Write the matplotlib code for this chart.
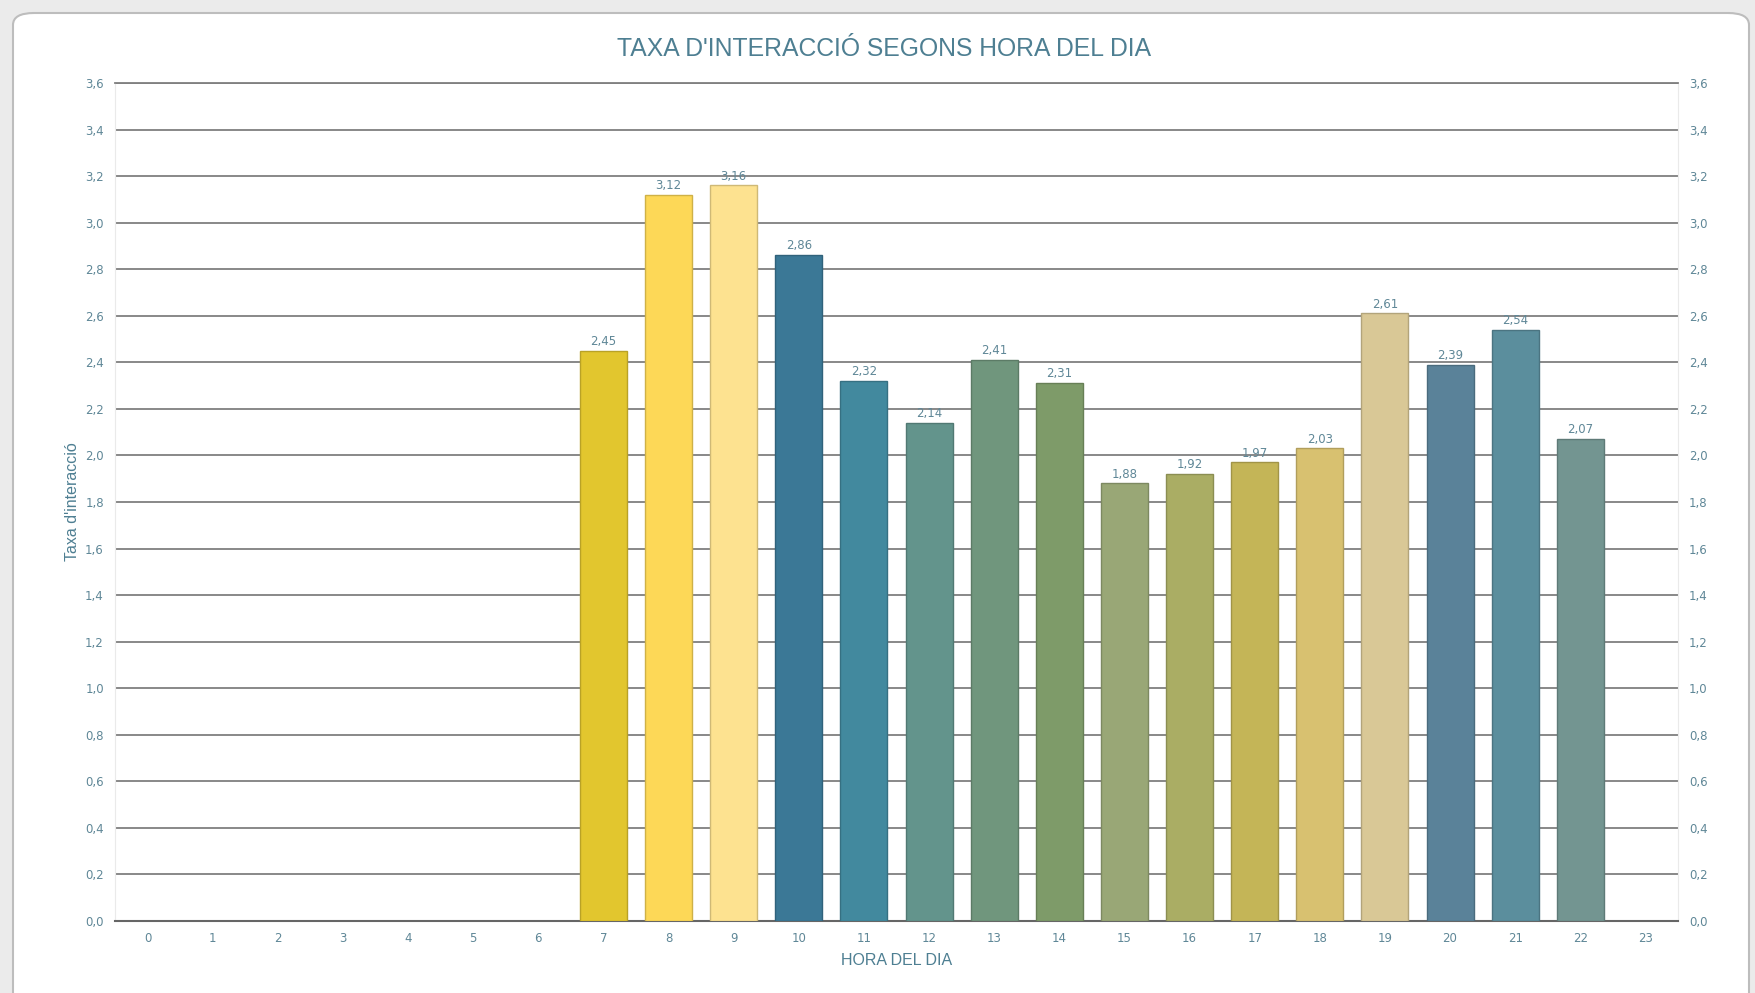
import matplotlib
matplotlib.use("Agg")
import matplotlib.pyplot as plt
from matplotlib.patches import FancyBboxPatch
import matplotlib.colors as mcolors
import numpy as np

# ---- data ----
hours = [str(h) for h in range(24)]
values = [0, 0, 0, 0, 0, 0, 0,
          2.45, 3.12, 3.16, 2.86, 2.32, 2.14, 2.41, 2.31,
          1.88, 1.92, 1.97, 2.03, 2.61, 2.39, 2.54, 2.07, 0]
bar_colors = ["#FFFFFF"] * 7 + [
    "#E2C62E", "#FDD857", "#FDE290", "#3B7896", "#42899E", "#63948C",
    "#70967D", "#7E9B69", "#99A776", "#AAAD64", "#C4B557", "#D8C170",
    "#D9C896", "#5A8299", "#5B8E9D", "#739591"] + ["#FFFFFF"]
y_ticks = [round(0.2 * i, 1) for i in range(19)]
y_tick_labels = [f"{t:.1f}".replace(".", ",") for t in y_ticks]

title = "TAXA D'INTERACCIÓ SEGONS HORA DEL DIA"
xlabel = "HORA DEL DIA"
ylabel = "Taxa d'interacció"

text_color = "#4E7F92"
tick_color = "#5F8797"
small_font = ['DejaVu Sans']

plt.rcParams['font.family'] = ['Liberation Sans', 'DejaVu Sans']

W, H = 1756, 993
fig = plt.figure(figsize=(W / 100, H / 100), dpi=100)
fig.patch.set_facecolor("#EBEBEB")

# card
card = FancyBboxPatch((13 / W, -0.05), (1749 - 13) / W, (993 - 13) / H + 0.05,
                      boxstyle="round,pad=0,rounding_size=0.012",
                      transform=fig.transFigure, facecolor="white",
                      edgecolor="#BDBDBD", linewidth=1.5, zorder=-10)
fig.patches.append(card)

left, right, top, bottom = 115 / W, 1678 / W, 83 / H, 921 / H
ax = fig.add_axes([left, 1 - bottom, right - left, bottom - top])
ax.set_facecolor("white")

x = np.arange(len(hours))
edge_cols = []
for c in bar_colors:
    r, g, b = mcolors.to_rgb(c)
    edge_cols.append((r * 0.82, g * 0.82, b * 0.82))
mask = [v > 0 for v in values]
ax.bar(x[mask], np.array(values)[mask], width=0.72,
       color=[c for c, m in zip(bar_colors, mask) if m],
       edgecolor=[c for c, m in zip(edge_cols, mask) if m],
       linewidth=1.0, zorder=3)

for xi, v in zip(x, values):
    if v > 0:
        ax.text(xi, v + 0.012, f"{v:.2f}".replace(".", ","), ha="center",
                va="bottom", fontsize=8.5, color=tick_color, zorder=4,
                family=small_font)

ax.set_xlim(-0.5, len(hours) - 0.5)
ax.set_ylim(0, 3.6)
ax.set_yticks(y_ticks)
ax.set_yticklabels(y_tick_labels, family=small_font)
ax.set_xticks(x)
ax.set_xticklabels(hours, family=small_font)
ax.yaxis.grid(True, color="#7F7F7F", linewidth=1.3, zorder=1)
ax.set_axisbelow(True)
ax.tick_params(axis="both", length=0, labelsize=8.5, labelcolor=tick_color)
ax.tick_params(axis="y", pad=8)
ax.tick_params(axis="x", pad=8)
ax.spines["top"].set_color("#7F7F7F")
ax.spines["top"].set_linewidth(1.3)
ax.spines["left"].set_color("#EAEAEA")
ax.spines["right"].set_color("#EAEAEA")
ax.spines["bottom"].set_color("#666666")
ax.spines["bottom"].set_linewidth(1.5)

ax2 = ax.twinx()
ax2.set_ylim(0, 3.6)
ax2.set_yticks(y_ticks)
ax2.set_yticklabels(y_tick_labels, family=small_font)
ax2.tick_params(axis="y", length=0, labelsize=8.5, labelcolor=tick_color, pad=8)
for s in ax2.spines.values():
    s.set_visible(False)

ax.set_xlabel(xlabel, fontsize=11.5, color=text_color, labelpad=6)
ax.set_ylabel(ylabel, fontsize=11.5, color=text_color, labelpad=4)

fig.text((left + right) / 2 - 0.007, 1 - 49 / H, title, ha="center", va="center",
         fontsize=17.8, color=text_color)

fig.savefig("out.png", dpi=100, facecolor=fig.get_facecolor())
